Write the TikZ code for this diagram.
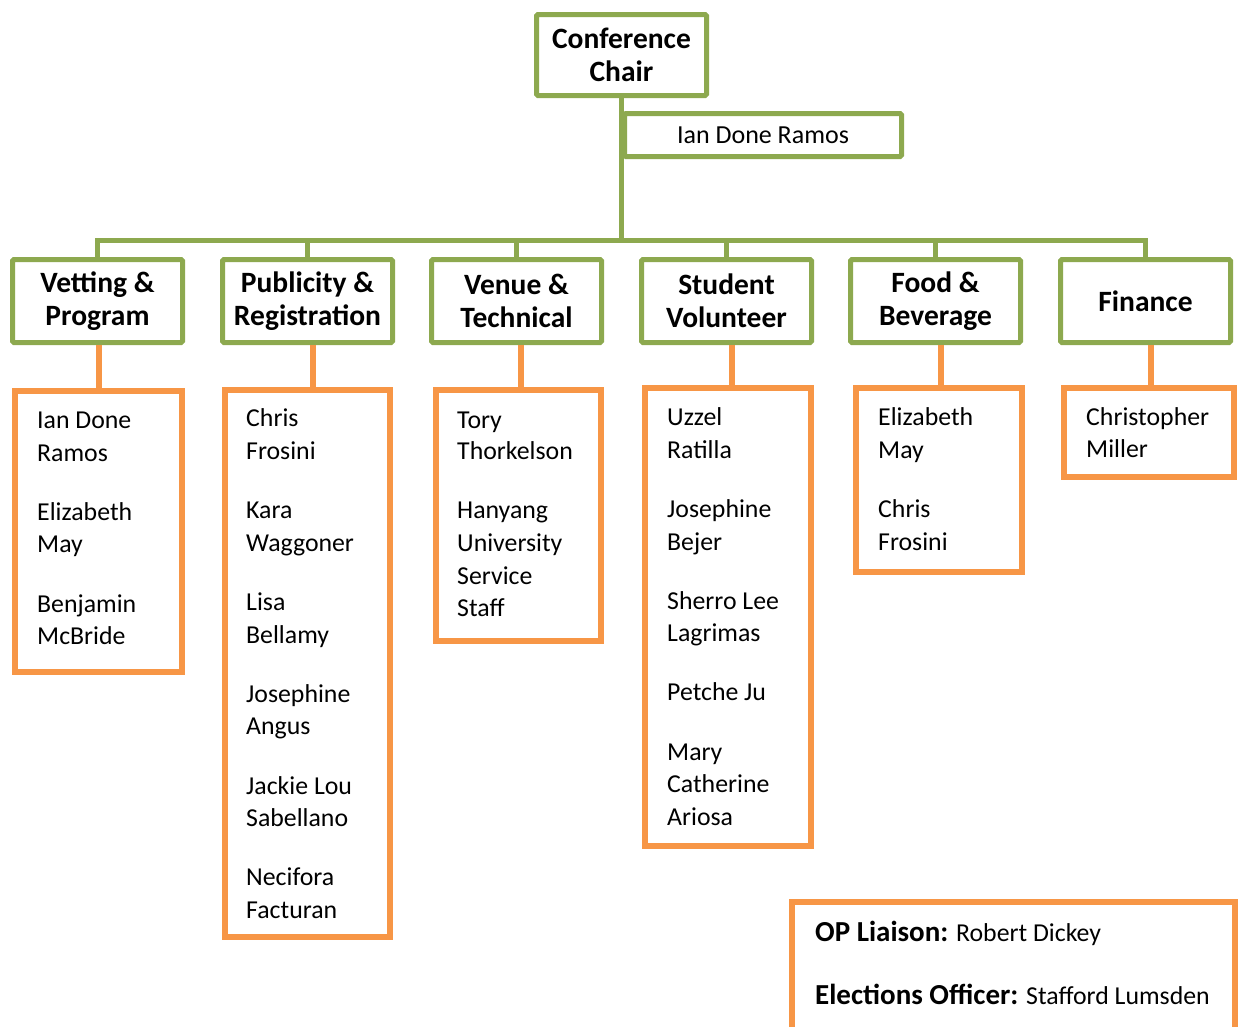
\documentclass[tikz,border=0pt]{standalone}
\usepackage{fontspec}
\setmainfont{Carlito}
\definecolor{gr}{HTML}{8DA94F}
\definecolor{og}{HTML}{F79646}
\tikzset{
  gbox/.style={draw=gr, line width=5pt, fill=white, rounded corners=1.5pt, inner sep=0pt, align=center,
    font=\fontsize{29.5}{33}\selectfont\bfseries},
  obox/.style={draw=og, line width=6pt, fill=white, inner sep=0pt},
  gline/.style={draw=gr, line width=5pt},
  oline/.style={draw=og, line width=6pt},
  nm/.style={anchor=base west, inner sep=0pt, font=\fontsize{25.8}{33}\selectfont},
}
\begin{document}
\begin{tikzpicture}[x=1pt,y=-1pt]
\useasboundingbox (0,0) rectangle (1246,1026);
\clip (0,0) rectangle (1246,1026);
% chair
\node[gbox, minimum width=170pt, minimum height=81pt] (chair) at (621.5,55) {Conference\\Chair};
\coordinate (bar) at (621.5,240);
\draw[gline] (chair.south) -- (bar);
\node[gbox, minimum width=277pt, minimum height=43pt, font=\fontsize{26}{33}\selectfont] (ian) at (763,135) {Ian Done Ramos};
% top boxes
\node[gbox, minimum width=170pt, minimum height=83pt] (v) at (97.5,301) {Vetting \&\\Program};
\node[gbox, minimum width=170pt, minimum height=83pt] (p) at (307.5,301) {Publicity \&\\Registration};
\node[gbox, minimum width=170pt, minimum height=83pt] (ve) at (516.5,301) {Venue \&\\Technical};
\node[gbox, minimum width=170pt, minimum height=83pt] (s) at (726.5,301) {Student\\Volunteer};
\node[gbox, minimum width=170pt, minimum height=83pt] (fo) at (935.5,301) {Food \&\\Beverage};
\node[gbox, minimum width=170pt, minimum height=83pt] (fi) at (1145.5,301) {Finance};
\draw[gline] (v.north) -- (v.north |- bar) -- (fi.north |- bar) -- (fi.north);
\foreach \n in {p,ve,s,fo} \draw[gline] (\n.north) -- (\n.north |- bar);
% orange boxes
\node[obox, minimum width=167pt, minimum height=281pt] (o1) at (98.5,531.5) {};
\node[obox, minimum width=165pt, minimum height=547pt] (o2) at (307.5,663.5) {};
\node[obox, minimum width=165pt, minimum height=251pt] (o3) at (518.5,515.5) {};
\node[obox, minimum width=166pt, minimum height=458pt] (o4) at (728,617) {};
\node[obox, minimum width=166pt, minimum height=184pt] (o5) at (939,480) {};
\node[obox, minimum width=170pt, minimum height=89pt] (o6) at (1149,432.5) {};
\draw[oline] ([xshift=1.5pt]v.south) -- ([xshift=1.5pt]v.south |- o1.north);
\draw[oline] ([xshift=5.5pt]p.south) -- ([xshift=5.5pt]p.south |- o2.north);
\draw[oline] ([xshift=4.5pt]ve.south) -- ([xshift=4.5pt]ve.south |- o3.north);
\draw[oline] ([xshift=5.5pt]s.south) -- ([xshift=5.5pt]s.south |- o4.north);
\draw[oline] ([xshift=5.5pt]fo.south) -- ([xshift=5.5pt]fo.south |- o5.north);
\draw[oline] ([xshift=5.5pt]fi.south) -- ([xshift=5.5pt]fi.south |- o6.north);
% names
\foreach \t/\yy [count=\i] in {Ian Done/428, Ramos/461, Elizabeth/520, May/552, Benjamin/612, McBride/644}
  \node[nm] (a\i) at (37,\yy) {\t};
\foreach \t/\yy [count=\i] in {Chris/426, Frosini/459, Kara/518, Waggoner/551, Lisa/610, Bellamy/643, Josephine/702, Angus/734, Jackie Lou/794, Sabellano/826, Necifora/885, Facturan/918}
  \node[nm] (b\i) at (246,\yy) {\t};
\foreach \t/\yy [count=\i] in {Tory/428, Thorkelson/459, Hanyang/518, University/551, Service/584, Staff/616}
  \node[nm] (c\i) at (457,\yy) {\t};
\foreach \t/\yy [count=\i] in {Uzzel/425, Ratilla/458, Josephine/517, Bejer/550, Sherro Lee/609, Lagrimas/641, Petche Ju/700, Mary/760, Catherine/792, Ariosa/825}
  \node[nm] (d\i) at (667,\yy) {\t};
\foreach \t/\yy [count=\i] in {Elizabeth/425, May/458, Chris/517, Frosini/550}
  \node[nm] (e\i) at (878,\yy) {\t};
\foreach \t/\yy [count=\i] in {Christopher/425, Miller/457}
  \node[nm] (f\i) at (1086,\yy) {\t};
% bottom box
\node[obox, minimum width=443pt, minimum height=220pt] (bot) at (1013.5,1012) {};
\node[nm] (op) at (815,941) {{\fontsize{29}{30}\selectfont\bfseries OP Liaison:} Robert Dickey};
\node[nm] (el) at (815,1004) {{\fontsize{29}{30}\selectfont\bfseries Elections Officer:} Stafford Lumsden};
\end{tikzpicture}
\end{document}
